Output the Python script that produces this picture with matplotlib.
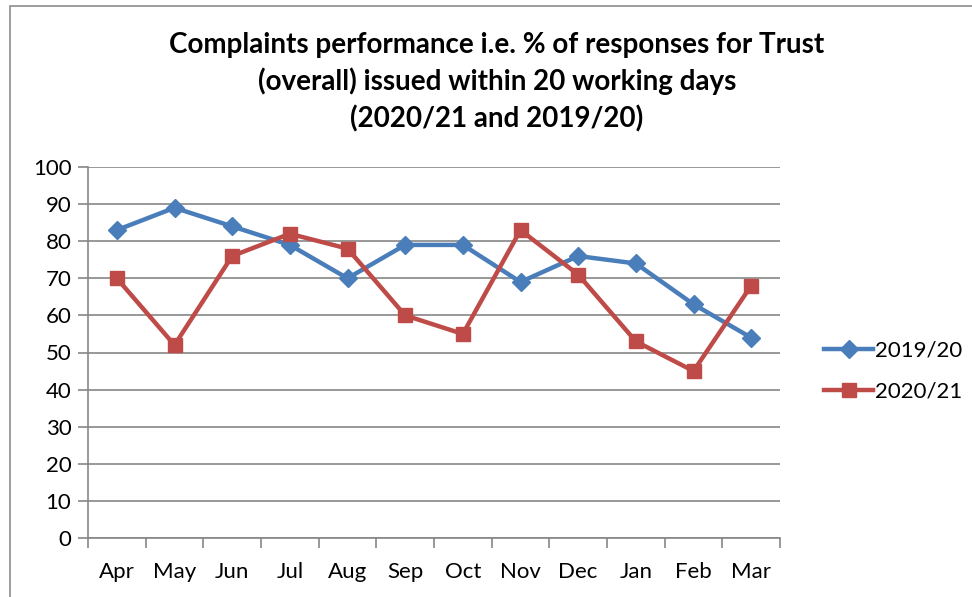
import matplotlib
matplotlib.use("Agg")
import matplotlib.pyplot as plt
from matplotlib.patches import Rectangle

months = ["Apr", "May", "Jun", "Jul", "Aug", "Sep", "Oct", "Nov", "Dec", "Jan", "Feb", "Mar"]
s2019 = [83, 89, 84, 79, 70, 79, 79, 69, 76, 74, 63, 54]
s2020 = [70, 52, 76, 82, 78, 60, 55, 83, 71, 53, 45, 68]
yticks = list(range(0, 101, 10))

plt.rcParams['font.family'] = ['Lato', 'DejaVu Sans']

fig = plt.figure(figsize=(9.72, 5.97), dpi=100)
fig.patches.append(Rectangle((10/972, -0.1), 1.2, (1 - 6/597) + 0.1, transform=fig.transFigure,
                             fill=False, edgecolor='#8c8c8c', linewidth=1.2))

ax = fig.add_axes([88/972, 1 - 538/597, (780 - 88)/972, (538 - 167)/597])
x = list(range(len(months)))
ax.plot(x, s2019, color='#4A7EBB', lw=3.2, marker='D', markersize=9.5, label='2019/20')
ax.plot(x, s2020, color='#BE4B48', lw=3.2, marker='s', markersize=10.5, label='2020/21')

ax.set_xlim(-0.5, 11.5)
ax.set_ylim(0, 100)
ax.set_yticks(yticks)
ax.set_xticks([i - 0.5 for i in range(13)])
ax.set_xticklabels([])
ax.set_xticks(x, minor=True)
ax.set_xticklabels(months, minor=True)
ax.tick_params(axis='x', which='major', length=7, color='#868686', width=1.2, direction='out')
ax.tick_params(axis='x', which='minor', length=0, pad=17, labelsize=16)
ax.tick_params(axis='y', length=7, color='#868686', width=1.2, labelsize=16, pad=5)
ax.grid(axis='y', color='#868686', lw=1.2)
ax.set_axisbelow(True)
for s in ['top', 'right']:
    ax.spines[s].set_visible(False)
for s in ['left', 'bottom']:
    ax.spines[s].set_color('#868686')
    ax.spines[s].set_linewidth(1.2)

leg = ax.legend(loc='center left', bbox_to_anchor=(1.035, 0.45), frameon=False, fontsize=16,
                handlelength=2.2, labelspacing=0.95, handletextpad=0.1)

fig.text(497/972, 1 - 82/597, "Complaints performance i.e. % of responses for Trust\n(overall) issued within 20 working days\n(2020/21 and 2019/20)",
         ha='center', va='center', fontsize=20, fontweight='bold', linespacing=1.45)

fig.savefig("out.png", dpi=100)
